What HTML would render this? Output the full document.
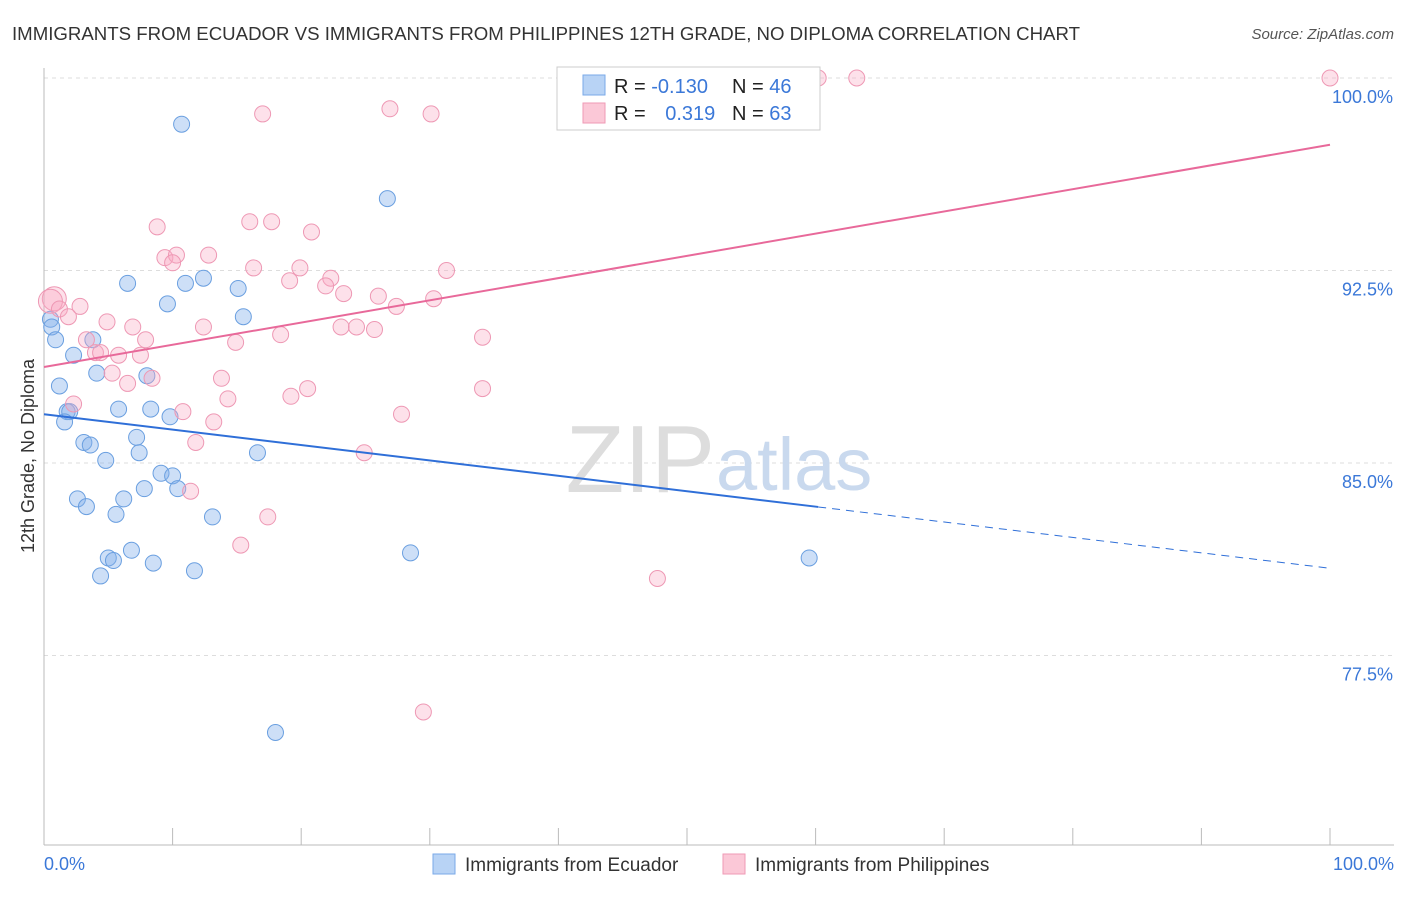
<!DOCTYPE html>
<html><head><meta charset="utf-8"><style>
body{margin:0;background:#fff;font-family:"Liberation Sans",sans-serif}
svg text{font-family:"Liberation Sans",sans-serif}
</style></head><body>
<svg id="chart" width="1406" height="892">
<text x="12" y="40" font-size="18" fill="#333" textLength="1068" lengthAdjust="spacingAndGlyphs">IMMIGRANTS FROM ECUADOR VS IMMIGRANTS FROM PHILIPPINES 12TH GRADE, NO DIPLOMA CORRELATION CHART</text>
<text x="1394" y="39" font-size="15" fill="#555" text-anchor="end" font-style="italic">Source: ZipAtlas.com</text>
<g id="grid"></g>
<text x="715" y="492" font-size="96" fill="#ddd" text-anchor="end" font-family="Liberation Serif">ZIP</text>
<text x="716" y="490" font-size="74" fill="#c9d9ee">atlas</text>
<line x1="44" y1="68" x2="44" y2="845" stroke="#bbb"/>
<line x1="44" y1="845" x2="1394" y2="845" stroke="#bbb"/>
<g id="xticks"></g>
<g id="ylabels"></g>
<g id="pts"></g>
<g id="trends"></g>
<text x="44" y="870" font-size="18" fill="#3b78d8">0.0%</text>
<text x="1394" y="870" font-size="18" fill="#3b78d8" text-anchor="end">100.0%</text>
<text transform="translate(34,456) rotate(-90)" font-size="18" fill="#333" text-anchor="middle">12th Grade, No Diploma</text>
<g>
<rect x="557" y="67" width="263" height="63" fill="#fff" stroke="#ccc"/>
<rect x="583" y="75" width="22" height="20" fill="#b8d3f5" stroke="#7aaae8"/>
<rect x="583" y="103" width="22" height="20" fill="#fbc8d7" stroke="#ef9ab5"/>
<text x="614" y="93" font-size="20" fill="#222">R = <tspan fill="#3b78d8">-0.130</tspan></text>
<text x="732" y="93" font-size="20" fill="#222">N = <tspan fill="#3b78d8">46</tspan></text>
<text x="614" y="120" font-size="20" fill="#222">R = <tspan fill="#3b78d8" dx="14">0.319</tspan></text>
<text x="732" y="120" font-size="20" fill="#222">N = <tspan fill="#3b78d8">63</tspan></text>
</g>
<g>
<rect x="433" y="854" width="22" height="20" fill="#b8d3f5" stroke="#7aaae8"/>
<text x="465" y="871" font-size="19" fill="#333">Immigrants from Ecuador</text>
<rect x="723" y="854" width="22" height="20" fill="#fbc8d7" stroke="#ef9ab5"/>
<text x="755" y="871" font-size="19" fill="#333">Immigrants from Philippines</text>
</g>
</svg>
<script>
const blueX=[10.7,26.7,6.5,11.0,12.4,15.1,9.6,15.5,0.5,0.6,0.9,3.8,2.3,4.1,8.0,1.2,1.8,2.0,1.6,5.8,8.3,9.8,7.2,3.1,3.6,7.4,16.6,4.8,9.1,10.0,10.4,7.8,2.6,3.3,6.2,5.6,13.1,6.8,5.0,5.4,8.5,28.5,11.7,4.4,59.5,18.0];
const blueY=[98.2,95.3,92.0,92.0,92.2,91.8,91.2,90.7,90.6,90.3,89.8,89.8,89.2,88.5,88.4,88.0,87.0,87.0,86.6,87.1,87.1,86.8,86.0,85.8,85.7,85.4,85.4,85.1,84.6,84.5,84.0,84.0,83.6,83.3,83.6,83.0,82.9,81.6,81.3,81.2,81.1,81.5,80.8,80.6,81.3,74.5];
const pinkX=[60.2,63.2,100,26.9,30.1,17.0,8.8,16.0,17.7,20.8,12.8,9.4,10.3,10.0,16.3,19.9,31.3,19.1,22.3,21.9,23.3,26.0,30.3,27.4,0.8,0.5,1.2,2.8,1.9,4.9,6.9,12.4,23.1,24.3,25.7,18.4,34.1,3.3,7.9,14.9,4.0,4.4,5.8,7.5,5.3,8.4,6.5,13.8,20.5,19.2,34.1,14.3,2.3,10.8,27.8,13.2,11.8,24.9,11.4,17.4,15.3,47.7,29.5];
const pinkY=[100,100,100,98.8,98.6,98.6,94.2,94.4,94.4,94.0,93.1,93.0,93.1,92.8,92.6,92.6,92.5,92.1,92.2,91.9,91.6,91.5,91.4,91.1,91.4,91.3,91.0,91.1,90.7,90.5,90.3,90.3,90.3,90.3,90.2,90.0,89.9,89.8,89.8,89.7,89.3,89.3,89.2,89.2,88.5,88.3,88.1,88.3,87.9,87.6,87.9,87.5,87.3,87.0,86.9,86.6,85.8,85.4,83.9,82.9,81.8,80.5,75.3];
const yTicks=[100,92.5,85,77.5];
const yTickLabels=["100.0%","92.5%","85.0%","77.5%"];
const blueTrend=[86.9,80.9];
const blueSolidEnd=60.2;
const pinkTrend=[88.74,97.4];
const xs=v=>44+v*12.86;
const ys=v=>78+(100-v)/7.5*192.5;
const NS='http://www.w3.org/2000/svg';
function mk(tag,at,parent){const e=document.createElementNS(NS,tag);for(const k in at)e.setAttribute(k,at[k]);document.getElementById(parent).appendChild(e);return e;}
yTicks.forEach((t,i)=>{
 const l=mk('line',{x1:44,x2:1394,y1:ys(t),y2:ys(t),stroke:'#ddd','stroke-dasharray':'4,4'},'grid');
 
 
 const tx=mk('text',{x:1393,y:ys(t)+25,'font-size':18,fill:'#3b78d8','text-anchor':'end'},'ylabels');
 tx.textContent=yTickLabels[i];
 
 
});
for(let i=0;i<=10;i++){const t=mk('line',{x1:xs(i*10),x2:xs(i*10),y1:828,y2:845,stroke:'#bbb'},'xticks');
 
 }
blueX.forEach((v,i)=>{const c=mk('circle',{cx:xs(v),cy:ys(blueY[i]),r:8,fill:'rgba(130,175,235,0.4)',stroke:'#6a9fe0','stroke-width':1},'pts');
 
 });
pinkX.forEach((v,i)=>{const c=mk('circle',{cx:xs(v),cy:ys(pinkY[i]),r:(i==24||i==25)?12:8,fill:'rgba(248,170,195,0.35)',stroke:'#ee98b4','stroke-width':1},'pts');
 
 });
const by=x=>blueTrend[0]+(blueTrend[1]-blueTrend[0])*x/100;
const b1=mk('line',{x1:xs(0),y1:ys(by(0)),x2:xs(blueSolidEnd),y2:ys(by(blueSolidEnd)),stroke:'#2f6fd8','stroke-width':2},'trends');


const b2=mk('line',{x1:xs(blueSolidEnd),y1:ys(by(blueSolidEnd)),x2:xs(100),y2:ys(by(100)),stroke:'#2f6fd8','stroke-width':1,'stroke-dasharray':'8,6'},'trends');


const p1=mk('line',{x1:xs(0),y1:ys(pinkTrend[0]),x2:xs(100),y2:ys(pinkTrend[1]),stroke:'#e8699a','stroke-width':2},'trends');


</script>
</body></html>
